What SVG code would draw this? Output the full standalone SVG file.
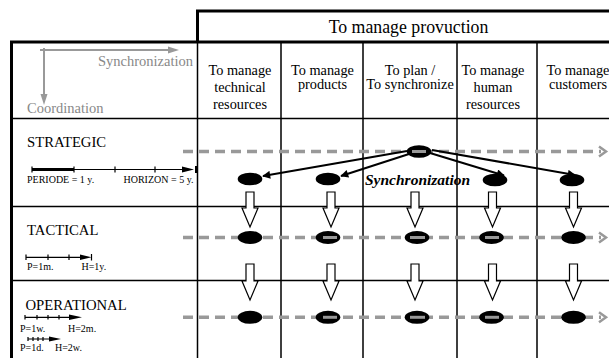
<svg xmlns="http://www.w3.org/2000/svg" width="609" height="358" viewBox="0 0 609 358">
<style>
text{font-family:"Liberation Serif","Times New Roman",serif;fill:#000}
.hd{font-size:14.3px;text-anchor:middle}
.row{font-size:14.7px}
.sm{font-size:10px}
.grid{stroke:#000;stroke-width:1.5;fill:none}
.thick{stroke:#000;stroke-width:3;fill:none}
.dash{stroke:#999;stroke-width:3.5;stroke-dasharray:10 6;fill:none}
.chev{stroke:#999;stroke-width:2.5;fill:none}
.el{fill:#000}
.ov{stroke:#999;stroke-width:3}
.hollow{fill:#fff;stroke:#000;stroke-width:1.2}
.sync{stroke:#000;stroke-width:2;fill:none;marker-end:url(#ah)}
.tl{stroke:#000;stroke-width:1.2;fill:none}
.axis{stroke:#999;stroke-width:2;fill:none}
</style>
<defs>
<marker id="ah" markerUnits="userSpaceOnUse" viewBox="0 0 10 10" markerWidth="10" markerHeight="8" refX="9" refY="5" orient="auto">
<path d="M0,0 L10,5 L0,10 Z" fill="#000"/>
</marker>
</defs>
<rect width="609" height="358" fill="#fff"/>

<g id="grid">
<path class="thick" d="M197.5,42 V11 H609"/>
<path class="thick" d="M10,42 H609 M11.5,42 V358"/>
<path class="grid" d="M197.5,42 V358 M281,42 V358 M363,42 V358 M457,42 V358 M537,42 V358"/>
<path class="grid" d="M11,118.5 H609 M11,206.5 H609 M11,280.5 H609"/>
</g>

<g id="header">
<text x="408.5" y="33" style="font-size:17.8px;text-anchor:middle">To manage provuction</text>
</g>

<g id="axes">
<path class="axis" d="M40,50 H170 M44,48 V96"/>
<polygon points="168,46.5 179,50 168,53.5" fill="#999"/>
<polygon points="40.5,94 44,105 47.5,94" fill="#999"/>
<text x="193" y="65.5" style="font-size:14.5px;text-anchor:end;fill:#888">Synchronization</text>
<text x="27" y="113" style="font-size:14.5px;fill:#888">Coordination</text>
</g>

<g id="col-technical">
<text class="hd" x="240" y="74.5">To manage</text>
<text class="hd" x="240" y="91.5">technical</text>
<text class="hd" x="240" y="108.5">resources</text>
</g>
<g id="col-products">
<text class="hd" x="322.5" y="74.5">To manage</text>
<text class="hd" x="322.5" y="89">products</text>
</g>
<g id="col-plan">
<text class="hd" x="410" y="74.5">To plan /</text>
<text class="hd" x="410" y="89">To synchronize</text>
</g>
<g id="col-human">
<text class="hd" x="493" y="74.5">To manage</text>
<text class="hd" x="493" y="91.5">human</text>
<text class="hd" x="493" y="108.5">resources</text>
</g>
<g id="col-customers">
<text class="hd" x="578" y="74.5">To manage</text>
<text class="hd" x="578" y="89">customers</text>
</g>

<g id="row-strategic">
<text class="row" x="27" y="147">STRATEGIC</text>
<path class="tl" d="M32,169.5 H184 M32,166.5 V172.5 M74,166.5 V172.5 M115,166.5 V172.5 M155,166.5 V172.5"/>
<path d="M32,169.5 H74" stroke="#000" stroke-width="2.8"/>
<polygon points="182,166.5 194,169.5 182,172.5" fill="#000"/>
<path d="M196,166 V173" stroke="#000" stroke-width="2"/>
<text class="sm" x="27" y="183">PERIODE = 1 y.</text>
<text class="sm" x="123.5" y="183">HORIZON = 5 y.</text>
</g>

<g id="row-tactical">
<text class="row" x="27" y="235">TACTICAL</text>
<path class="tl" d="M26,257.3 H82 M26,254.5 V260 M48,254.5 V260 M69,254.5 V260 M91.5,254 V260.5"/>
<polygon points="80,254.5 91.5,257.3 80,260" fill="#000"/>
<text class="sm" x="27" y="270">P=1m.</text>
<text class="sm" x="81.5" y="270">H=1y.</text>
</g>

<g id="row-operational">
<text class="row" x="25.5" y="310">OPERATIONAL</text>
<path class="tl" d="M25,317.3 H72 M25,315 V319.6 M37,315 V319.6 M48,315 V319.6 M59,315 V319.6"/>
<polygon points="69,314.5 82,317.3 69,320" fill="#000"/>
<text class="sm" x="20" y="331.5">P=1w.</text>
<text class="sm" x="68" y="331.5">H=2m.</text>
<path class="tl" d="M28,339 H52 M28,337 V341 M33,337 V341 M38,337 V341 M43,337 V341"/>
<polygon points="49,336.5 61,339 49,341.5" fill="#000"/>
<text class="sm" x="20" y="351">P=1d.</text>
<text class="sm" x="55" y="351">H=2w.</text>
</g>

<g id="flows">
<path class="dash" d="M183,151.5 H601 M183,237.5 H601 M183,317.3 H601"/>
<polyline class="chev" points="599,146.5 606,151.5 599,156.5"/>
<polyline class="chev" points="599,232.5 606,237.5 599,242.5"/>
<polyline class="chev" points="599,312.3 606,317.3 599,322.3"/>
</g>

<g id="node-plan-strategic"><ellipse class="el" cx="419" cy="151.5" rx="12.3" ry="6.3"/><line class="ov" x1="412" y1="151.5" x2="426" y2="151.5"/></g>
<g id="node-technical-strategic"><ellipse class="el" cx="250" cy="179" rx="12.3" ry="6.3"/></g>
<g id="node-products-strategic"><ellipse class="el" cx="328" cy="179" rx="12.3" ry="6.3"/></g>
<g id="node-human-strategic"><ellipse class="el" cx="495" cy="180" rx="12.3" ry="6.3"/></g>
<g id="node-customers-strategic"><ellipse class="el" cx="572" cy="180" rx="12.3" ry="6.3"/></g>

<g id="node-technical-tactical"><ellipse class="el" cx="250" cy="237.5" rx="12.3" ry="6.5"/></g>
<g id="node-products-tactical"><ellipse class="el" cx="328" cy="237.5" rx="12.3" ry="6.5"/><line class="ov" x1="323" y1="237.5" x2="337" y2="237.5"/></g>
<g id="node-plan-tactical"><ellipse class="el" cx="417" cy="237.5" rx="12.3" ry="6.5"/><line class="ov" x1="410" y1="237.5" x2="425" y2="237.5"/></g>
<g id="node-human-tactical"><ellipse class="el" cx="491.5" cy="237.5" rx="12.3" ry="6.5"/><line class="ov" x1="485" y1="237.5" x2="499" y2="237.5"/></g>
<g id="node-customers-tactical"><ellipse class="el" cx="573.5" cy="237.5" rx="12.3" ry="6.5"/></g>

<g id="node-technical-operational"><ellipse class="el" cx="250" cy="317.3" rx="12.3" ry="6.5"/></g>
<g id="node-products-operational"><ellipse class="el" cx="328" cy="317.3" rx="12.3" ry="6.5"/><line class="ov" x1="323" y1="317.3" x2="337" y2="317.3"/></g>
<g id="node-plan-operational"><ellipse class="el" cx="417" cy="317.3" rx="12.3" ry="6.5"/><line class="ov" x1="410" y1="317.3" x2="425" y2="317.3"/></g>
<g id="node-human-operational"><ellipse class="el" cx="491.5" cy="317.3" rx="12.3" ry="6.5"/><line class="ov" x1="485" y1="317.3" x2="499" y2="317.3"/></g>
<g id="node-customers-operational"><ellipse class="el" cx="573.5" cy="317.3" rx="12.3" ry="6.5"/></g>

<g id="connectors">
<line class="sync" x1="407" y1="151" x2="263" y2="176"/>
<line class="sync" x1="409" y1="154" x2="341" y2="176"/>
<line class="sync" x1="430" y1="153" x2="504" y2="175.5"/>
<line class="sync" x1="432" y1="150" x2="575" y2="175"/>
<path class="hollow" d="M246,192 H254 V208 H258 L250,227 L242,208 H246 Z"/>
<path class="hollow" d="M327,192 H335 V208 H339 L331,227 L323,208 H327 Z"/>
<path class="hollow" d="M411,192 H419 V208 H423 L415,227 L407,208 H411 Z"/>
<path class="hollow" d="M488.5,192 H496.5 V208 H500.5 L492.5,227 L484.5,208 H488.5 Z"/>
<path class="hollow" d="M569.5,192 H577.5 V208 H581.5 L573.5,227 L565.5,208 H569.5 Z"/>
<path class="hollow" d="M246,264 H254 V281 H258 L250,300 L242,281 H246 Z"/>
<path class="hollow" d="M327,264 H335 V281 H339 L331,300 L323,281 H327 Z"/>
<path class="hollow" d="M411,264 H419 V281 H423 L415,300 L407,281 H411 Z"/>
<path class="hollow" d="M488.5,264 H496.5 V281 H500.5 L492.5,300 L484.5,281 H488.5 Z"/>
<path class="hollow" d="M569.5,264 H577.5 V281 H581.5 L573.5,300 L565.5,281 H569.5 Z"/>
<text x="365" y="185" style="font-size:15.5px;font-weight:bold;font-style:italic">Synchronization</text>
</g>
</svg>
